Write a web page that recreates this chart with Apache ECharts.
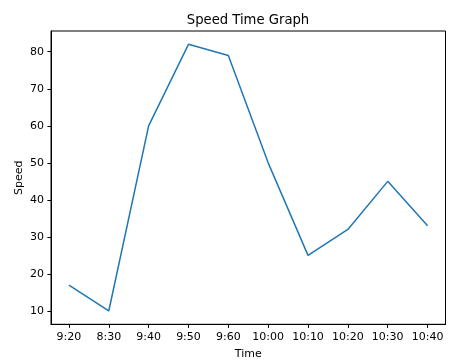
<!DOCTYPE html>
<html>
<head>
<meta charset="utf-8">
<script src="https://cdn.jsdelivr.net/npm/echarts@6/dist/echarts.min.js"></script>
<style>
html,body{margin:0;padding:0;background:#fff;}
#c{width:474px;height:362px;}
</style>
</head>
<body>
<div id="c"></div>
<script>
const categories = ['9:20','8:30','9:40','9:50','9:60','10:00','10:10','10:20','10:30','10:40'];
const speeds = [17, 10, 60, 82, 79, 50, 25, 32, 45, 33];
const yTicks = [10, 20, 30, 40, 50, 60, 70, 80];

const xIdx = categories.map((c, i) => i);
const n = categories.length;
const xPad = (n - 1) * 0.05;
const yMinD = Math.min(...speeds), yMaxD = Math.max(...speeds);
const yPad = (yMaxD - yMinD) * 0.05;

const font = 'DejaVu Sans';
const chart = echarts.init(document.getElementById('c'), null, {renderer: 'canvas'});
chart.setOption({
  animation: false,
  backgroundColor: '#fff',
  textStyle: {fontFamily: font},
  title: {
    text: 'Speed Time Graph',
    left: 248, top: 14.5, textAlign: 'center', padding: 0,
    textStyle: {fontFamily: font, fontSize: 13.2, fontWeight: 'normal', color: '#000'}
  },
  grid: {
    left: 51, right: 28.5, top: 31, bottom: 37.7,
    outerBoundsMode: 'none', containLabel: false,
    show: true, borderColor: '#000', borderWidth: 1, backgroundColor: 'transparent'
  },
  xAxis: {
    type: 'value',
    min: -xPad, max: n - 1 + xPad,
    name: 'Time', nameLocation: 'middle', nameGap: 24.3, nameMoveOverlap: false,
    nameTextStyle: {fontFamily: font, fontSize: 11, color: '#000'},
    axisLine: {show: true, onZero: false, lineStyle: {color: '#000', width: 1}},
    axisTick: {show: true, length: 3.6, customValues: xIdx, lineStyle: {color: '#000', width: 1}},
    axisLabel: {
      customValues: xIdx, margin: 7, color: '#000', fontFamily: font, fontSize: 11,
      formatter: v => categories[Math.round(v)] || ''
    },
    splitLine: {show: false}
  },
  yAxis: {
    type: 'value',
    min: yMinD - yPad, max: yMaxD + yPad,
    name: 'Speed', nameLocation: 'middle', nameGap: 26, nameRotate: 90, nameMoveOverlap: false,
    nameTextStyle: {fontFamily: font, fontSize: 11, color: '#000'},
    axisLine: {show: true, onZero: false, lineStyle: {color: '#000', width: 1}},
    axisTick: {show: true, length: 3.6, customValues: yTicks, lineStyle: {color: '#000', width: 1}},
    axisLabel: {customValues: yTicks, margin: 7, color: '#000', fontFamily: font, fontSize: 11},
    splitLine: {show: false}
  },
  series: [{
    type: 'line',
    data: speeds.map((v, i) => [xIdx[i], v]),
    showSymbol: false,
    lineStyle: {color: '#1f77b4', width: 1.5},
    itemStyle: {color: '#1f77b4'}
  }]
});
</script>
</body>
</html>
